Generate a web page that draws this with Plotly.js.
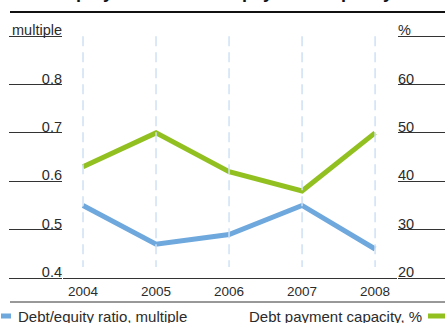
<!DOCTYPE html>
<html>
<head>
<meta charset="utf-8">
<script src="https://cdn.plot.ly/plotly-3.0.1.min.js"></script>
<style>html,body{margin:0;padding:0;background:#fff;}#chart{width:445px;height:323px;}</style>
</head>
<body>
<div id="chart"></div>
<script>
const years = [2004, 2005, 2006, 2007, 2008];
const debtEquity = [0.55, 0.47, 0.49, 0.55, 0.46];
const debtPayment = [43, 50, 42, 38, 50];
const leftTickVals = [0.4, 0.5, 0.6, 0.7, 0.8, 0.9];
const leftTickText = ['0.4', '0.5', '0.6', '0.7', '0.8', 'multiple'];
const rightTickVals = [20, 30, 40, 50, 60, 70];
const rightTickText = ['20', '30', '40', '50', '60', '%'];
const titleText = 'Debt/equity ratio and debt payment capacity';
const seriesNames = ['Debt/equity ratio, multiple', 'Debt payment capacity, %'];

const W = 445, H = 323, ML = 63, MR = 48, MT = 12, MB = 45;
const PW = W - ML - MR, PH = H - MT - MB;
const px = x => (x - ML) / PW;
const py = y => (H - MB - y) / PH;

const FONT = 'Liberation Sans, Arial, sans-serif';
const TXT = '#2b2b2b';
const BLUE = '#6ea8dd';
const GREEN = '#92c020';

// vertical dashed guide lines at each year
const gx = [], gy = [];
years.forEach(y => { gx.push(y, y, null); gy.push(0.9, 0.423, null); });

const traces = [
  {x: gx, y: gy, yaxis: 'y3', mode: 'lines', line: {color: '#cfe1f4', width: 1.5, dash: '10px,6px'}, hoverinfo: 'skip', showlegend: false},
  {x: [], y: [], yaxis: 'y4', mode: 'lines', hoverinfo: 'skip', showlegend: false},
  {x: years, y: debtEquity, yaxis: 'y', name: seriesNames[0], mode: 'lines', line: {color: BLUE, width: 5}, showlegend: false},
  {x: years, y: debtPayment, yaxis: 'y2', name: seriesNames[1], mode: 'lines', line: {color: GREEN, width: 5}, showlegend: false}
];

const yf = {family: FONT, size: 14.5, color: TXT};
const xf = {family: FONT, size: 13.5, color: TXT};
const lf = {family: FONT, size: 15, color: TXT};
const layout = {
  width: W, height: H,
  margin: {l: ML, r: MR, t: MT, b: MB, pad: 0},
  paper_bgcolor: '#fff', plot_bgcolor: 'rgba(0,0,0,0)',
  showlegend: false,
  font: yf,
  xaxis: {range: [2003.726, 2008.3], tickvals: years, ticktext: years.map(String), showgrid: false, zeroline: false,
          showline: true, linecolor: '#333', linewidth: 1, ticks: '', tickfont: xf, ticklabelstandoff: 1},
  yaxis: {range: [0.4, 0.95], tickvals: leftTickVals, ticks: 'outside', ticklen: 53, tickcolor: '#333', tickwidth: 1,
          showticklabels: false, showgrid: false, zeroline: false, showline: false},
  yaxis2: {overlaying: 'y', side: 'right', range: [20, 75], tickvals: rightTickVals, ticks: 'outside', ticklen: 48,
           tickcolor: '#333', tickwidth: 1, showticklabels: false, showgrid: false, zeroline: false, showline: false},
  yaxis3: {overlaying: 'y', side: 'left', range: [0.4, 0.95], tickvals: leftTickVals, ticktext: leftTickText, ticks: '',
           ticklabelshift: -6, tickfont: yf, showgrid: false, zeroline: false, showline: false},
  yaxis4: {overlaying: 'y', side: 'right', range: [20, 75], tickvals: rightTickVals, ticktext: rightTickText, ticks: '',
           ticklabelshift: -6, tickfont: yf, showgrid: false, zeroline: false, showline: false},
  shapes: [
    {type: 'line', xref: 'paper', yref: 'paper', x0: px(10), x1: px(445), y0: py(12), y1: py(12), line: {color: '#111', width: 2}},
    {type: 'line', xref: 'paper', yref: 'paper', x0: px(10), x1: px(445), y0: py(302), y1: py(302), line: {color: '#333', width: 1}},
    {type: 'line', xref: 'paper', yref: 'paper', x0: px(1), x1: px(11), y0: py(316), y1: py(316), line: {color: BLUE, width: 5}},
    {type: 'line', xref: 'paper', yref: 'paper', x0: px(428), x1: px(445), y0: py(316), y1: py(316), line: {color: GREEN, width: 5}}
  ],
  annotations: [
    {text: seriesNames[0], xref: 'paper', yref: 'paper', x: px(16), y: py(316), xanchor: 'left', yanchor: 'middle', showarrow: false, font: lf},
    {text: seriesNames[1], xref: 'paper', yref: 'paper', x: px(424), y: py(316), xanchor: 'right', yanchor: 'middle', showarrow: false, font: lf},
    {text: '<b>' + titleText + '</b>', xref: 'paper', yref: 'paper', x: px(13), y: py(4), xanchor: 'left', yanchor: 'bottom', showarrow: false,
     font: {family: FONT, size: 18, color: '#111'}}
  ]
};

Plotly.newPlot('chart', traces, layout, {displayModeBar: false, staticPlot: true});
</script>
</body>
</html>
